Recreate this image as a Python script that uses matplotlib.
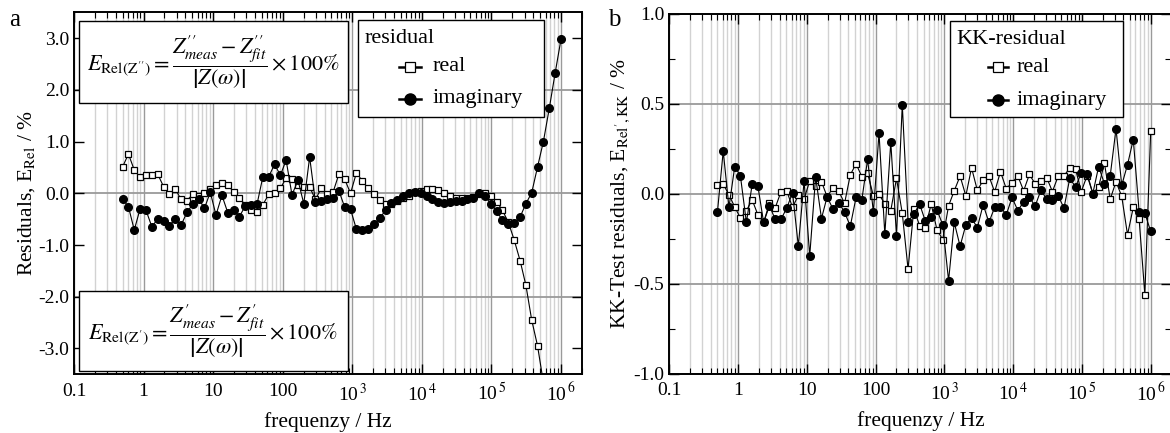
import numpy as np
import matplotlib
matplotlib.use('Agg')
import matplotlib.pyplot as plt
from matplotlib.ticker import MultipleLocator, FixedLocator, FixedFormatter, NullFormatter, FormatStrFormatter
from matplotlib.patches import Rectangle
from matplotlib.lines import Line2D

plt.rcParams['font.family'] = ['Liberation Serif', 'DejaVu Serif']
plt.rcParams['mathtext.fontset'] = 'stix'

# measurement frequencies (Hz)
freq = [0.500, 0.607, 0.736, 0.893, 1.08, 1.32, 1.60, 1.94, 2.35, 2.85,
        3.46, 4.20, 5.10, 6.19, 7.51, 9.11, 11.0, 13.4, 16.3, 19.7,
        23.9, 29.1, 35.3, 42.8, 51.9, 63.0, 76.4, 92.7, 112, 136,
        166, 201, 244, 296, 359, 436, 529, 642, 779, 944,
        1150, 1390, 1690, 2050, 2480, 3010, 3660, 4440, 5380, 6530,
        7930, 9620, 11700, 14200, 17200, 20800, 25300, 30700, 37200, 45200,
        54800, 66500, 80700, 97900, 119000, 144000, 175000, 212000, 258000, 313000,
        379000, 460000, 558000, 678000, 822000, 1000000]

# panel a: fit residuals (%)
a_real = [0.51, 0.76, 0.45, 0.31, 0.35, 0.35, 0.37, 0.13, -0.02, 0.09,
          -0.12, -0.14, -0.02, -0.06, 0.00, 0.09, 0.17, 0.20, 0.17, 0.02,
          -0.10, -0.22, -0.32, -0.37, -0.22, -0.02, 0.01, 0.10, 0.29, 0.27,
          0.17, 0.12, 0.12, -0.12, 0.10, -0.02, 0.02, 0.37, 0.27, 0.00,
          0.40, 0.24, 0.10, -0.01, -0.13, -0.20, -0.21, -0.14, -0.10, -0.06,
          0.02, 0.05, 0.08, 0.08, 0.06, 0.00, -0.06, -0.09, -0.09, -0.09,
          -0.07, -0.02, 0.01, -0.06, -0.16, -0.33, -0.56, -0.90, -1.30, -1.78,
          -2.45, -2.95, -3.66, -4.5, -5.5, -6.8]
a_imag = [-0.11, -0.26, -0.71, -0.30, -0.32, -0.65, -0.49, -0.53, -0.63, -0.49,
          -0.62, -0.37, -0.21, -0.11, -0.29, 0.02, -0.42, -0.04, -0.38, -0.32,
          -0.45, -0.24, -0.22, -0.21, 0.32, 0.32, 0.56, 0.35, 0.64, -0.03,
          0.25, -0.20, 0.70, -0.17, -0.15, -0.12, -0.09, 0.05, -0.27, -0.31,
          -0.70, -0.71, -0.70, -0.60, -0.48, -0.33, -0.19, -0.13, -0.06, 0.01,
          0.03, 0.00, -0.06, -0.11, -0.17, -0.18, -0.17, -0.15, -0.15, -0.12,
          -0.10, 0.00, -0.06, -0.20, -0.35, -0.52, -0.60, -0.57, -0.46, -0.20,
          0.01, 0.51, 1.00, 1.64, 2.32, 2.98]

# panel b: KK-test residuals (%)
b_real = [0.048, 0.051, -0.007, -0.075, -0.136, -0.095, -0.035, -0.119, -0.16, -0.055,
          -0.08, 0.01, 0.013, -0.077, -0.01, -0.03, 0.07, 0.04, 0.066, -0.018,
          0.031, 0.013, -0.055, 0.104, 0.165, 0.093, 0.112, -0.013, -0.004, -0.059,
          -0.095, 0.084, -0.11, -0.42, -0.086, -0.178, -0.19, -0.059, -0.201, -0.256,
          -0.068, 0.015, 0.097, -0.013, 0.143, 0.018, 0.073, 0.097, 0.009, 0.121,
          0.027, 0.06, 0.097, 0.015, 0.106, 0.055, 0.07, 0.088, 0.011, 0.097,
          0.097, 0.143, 0.134, 0.011, 0.1, 0.0, 0.037, 0.17, -0.031, 0.066,
          -0.016, -0.229, -0.077, -0.141, -0.562, 0.348]
b_imag = [-0.104, 0.236, -0.077, 0.150, 0.097, -0.161, 0.051, 0.040, -0.161, -0.068,
          -0.143, -0.143, -0.081, 0.005, -0.293, 0.07, -0.346, 0.092, -0.139, -0.018,
          -0.086, -0.05, -0.104, -0.181, -0.022, -0.035, 0.190, -0.104, 0.336, -0.227,
          0.286, -0.236, 0.493, -0.156, -0.114, -0.059, -0.154, -0.132, -0.09, -0.174,
          -0.484, -0.16, -0.293, -0.174, -0.136, -0.19, -0.062, -0.16, -0.077, -0.073,
          -0.119, -0.022, -0.095, -0.046, -0.018, -0.071, 0.018, -0.031, -0.037, -0.013,
          -0.081, 0.084, 0.037, 0.115, 0.11, 0.0, 0.15, 0.055, 0.1, 0.36,
          0.046, 0.16, 0.3, -0.1, -0.11, -0.21]

xticks = [0.1, 1, 10, 100, 1e3, 1e4, 1e5, 1e6]
xtick_labels = ['0.1', '1', '10', '100', r'10$^{\,3}$', r'10$^{\,4}$', r'10$^{\,5}$', r'10$^{\,6}$']
series_labels = ['real', 'imaginary']

FS = 14      # tick labels
LFS = 15.5   # axis labels
GFS = 16     # legend / formulas

real_style = dict(color='black', lw=0.8, marker='s', ms=5, mfc='white', mec='black', mew=0.9)
imag_style = dict(color='black', lw=0.8, marker='o', ms=5.5, mfc='black', mec='black')
# bigger versions for the legend keys
real_key = dict(real_style, lw=1.8, ms=6.5)
imag_key = dict(imag_style, lw=1.8, ms=8)


def styleAxes(ax, ylim, ymajor, yminor, yfmt):
    ax.set_xscale('log')
    ax.set_xlim(0.1, 2e6)
    ax.set_ylim(*ylim)
    ax.xaxis.set_major_locator(FixedLocator(xticks))
    ax.xaxis.set_major_formatter(FixedFormatter(xtick_labels))
    minors = [m * 10.0 ** e for e in range(-1, 7) for m in range(2, 10)]
    ax.xaxis.set_minor_locator(FixedLocator(minors))
    ax.xaxis.set_minor_formatter(NullFormatter())
    ax.yaxis.set_major_locator(MultipleLocator(ymajor))
    ax.yaxis.set_minor_locator(MultipleLocator(yminor))
    ax.yaxis.set_major_formatter(FormatStrFormatter(yfmt))
    ax.tick_params(which='both', direction='in', top=True, right=True, labelsize=FS)
    ax.tick_params(which='major', length=7, width=1.0)
    ax.tick_params(which='minor', length=4, width=0.8)
    ax.tick_params(axis='x', which='major', pad=6)
    ax.grid(True, which='major', axis='x', color='#9a9a9a', lw=1.0)
    ax.grid(True, which='minor', axis='x', color='#d2d2d2', lw=1.0)
    ax.grid(True, which='major', axis='y', color='#9a9a9a', lw=1.3)
    ax.set_axisbelow(True)
    for s in ax.spines.values():
        s.set_linewidth(1.4)
    ax.set_xlabel('frequenzy / Hz', fontsize=LFS, labelpad=5)


def drawSeries(ax, real, imag):
    ax.plot(freq, real, '-', **real_style)
    ax.plot(freq, imag, '-', **imag_style)


def drawLegend(ax, box, title, title_x, handle_x, text_x, rows_y):
    '''box legend in axes-fraction coords (x0, y0, w, h)'''
    tr = ax.transAxes
    ax.add_patch(Rectangle(box[:2], box[2], box[3], transform=tr, facecolor='white',
                           edgecolor='black', lw=1.0, zorder=7))
    ax.text(title_x, rows_y[0], title, transform=tr, fontsize=GFS, ha='left', va='center', zorder=8)
    for y, style, lab in zip(rows_y[1:], [real_key, imag_key], series_labels):
        ax.add_line(Line2D(handle_x, [y, y, y], transform=tr, zorder=8, markevery=[1], **style))
        ax.text(text_x, y, lab, transform=tr, fontsize=GFS, ha='left', va='center', zorder=8)


fig = plt.figure(figsize=(11.7, 4.33), dpi=100)

# ---- panel a ----  (axes: x 74..582 px, y 12.3..374.3 px)
ax1 = fig.add_axes([0.0632, 0.1356, 0.4342, 0.836])
styleAxes(ax1, (-3.5, 3.5), 2.0, 1.0, '%.1f')
ax1.yaxis.set_minor_formatter(FormatStrFormatter('%.1f'))
ax1.tick_params(axis='y', which='minor', length=7, width=1.0, labelsize=FS)
drawSeries(ax1, a_real, a_imag)
ax1.set_ylabel(r'Residuals, E$_{\mathrm{Rel}}$ / %', fontsize=LFS, labelpad=1)


def pxa(x, y):
    return ((x - 74) / 508, 1 - (y - 12.3) / 362)


bx0, by1 = pxa(358, 20)
bx1, by0 = pxa(544, 117)
drawLegend(ax1, (bx0, by0, bx1 - bx0, by1 - by0), 'residual',
           pxa(365, 0)[0], [pxa(399, 0)[0], pxa(410, 0)[0], pxa(421, 0)[0]],
           pxa(433, 0)[0], [pxa(0, 39)[1], pxa(0, 67)[1], pxa(0, 99)[1]])

box_kw = dict(transform=ax1.transAxes, facecolor='white', edgecolor='black', lw=1.0, zorder=5)
ax1.add_patch(Rectangle((0.0098, 0.749), 0.529, 0.227, **box_kw))
ax1.add_patch(Rectangle((0.0098, 0.008), 0.529, 0.222, **box_kw))
f_imag = (r"$E_{\mathrm{Rel(Z^{\prime\prime})}}=\dfrac{Z^{\prime\prime}_{meas}-Z^{\prime\prime}_{fit}}"
          r"{\left|Z(\omega)\right|}\times 100\%$")
f_real = (r"$E_{\mathrm{Rel(Z^{\prime})}}=\dfrac{Z^{\prime}_{meas}-Z^{\prime}_{fit}}"
          r"{\left|Z(\omega)\right|}\times 100\%$")
ax1.text(0.274, 0.8625, f_imag, transform=ax1.transAxes, ha='center', va='center',
         fontsize=GFS, zorder=6)
ax1.text(0.274, 0.119, f_real, transform=ax1.transAxes, ha='center', va='center',
         fontsize=GFS, zorder=6)
fig.text(15 / 1170, 1 - 20 / 433, 'a', fontsize=18, ha='center', va='center')

# ---- panel b ----  (axes: x 669.3..1171.4 px, y 13.5..373.5 px)
ax2 = fig.add_axes([0.5721, 0.1374, 0.4291, 0.8314])
styleAxes(ax2, (-1.0, 1.0), 0.5, 0.25, '%.1f')
drawSeries(ax2, b_real, b_imag)
ax2.set_ylabel(r"KK-Test residuals, E$_{\mathrm{Rel}^{\prime},\mathrm{KK}}$ / %",
               fontsize=LFS, labelpad=1)


def pxb(x, y):
    return ((x - 669.3) / 502, 1 - (y - 13.5) / 360)


bx0, by1 = pxb(949.6, 20.6)
bx1, by0 = pxb(1123, 117)
drawLegend(ax2, (bx0, by0, bx1 - bx0, by1 - by0), 'KK-residual',
           pxb(956, 0)[0], [pxb(988, 0)[0], pxb(998, 0)[0], pxb(1008, 0)[0]],
           pxb(1016, 0)[0], [pxb(0, 39)[1], pxb(0, 67)[1], pxb(0, 100)[1]])
fig.text(614 / 1170, 1 - 20 / 433, 'b', fontsize=18, ha='center', va='center')

fig.savefig('out.png', dpi=100)
